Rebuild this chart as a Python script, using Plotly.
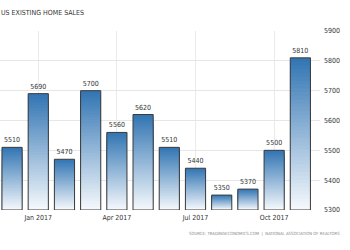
import plotly.graph_objects as go
import numpy as np

months = ["Dec 2016", "Jan 2017", "Feb 2017", "Mar 2017", "Apr 2017", "May 2017",
          "Jun 2017", "Jul 2017", "Aug 2017", "Sep 2017", "Oct 2017", "Nov 2017"]
sales = [5510, 5690, 5470, 5700, 5560, 5620, 5510, 5440, 5350, 5370, 5500, 5810]
tick_months = ["Jan 2017", "Apr 2017", "Jul 2017", "Oct 2017"]
y_ticks = [5300, 5400, 5500, 5600, 5700, 5800, 5900]
base_value = 5300

top_rgb = np.array([52, 118, 180])
bot_rgb = np.array([244, 248, 252])

FONT = "Liberation Sans Narrow, DejaVu Sans Condensed, Roboto Condensed, sans-serif"

fig = go.Figure()
steps = 40
vals = np.array(sales, dtype=float)
for k in range(steps):
    frac = 1 - k / steps
    t = k / (steps - 1)
    c = top_rgb * (1 - t) + bot_rgb * t
    color = "rgb(%d,%d,%d)" % tuple(c.astype(int))
    fig.add_trace(go.Bar(
        x=months, y=(vals - base_value) * frac, base=base_value,
        marker=dict(color=color, line=dict(width=0)),
        hoverinfo="skip", showlegend=False,
    ))

fig.add_trace(go.Bar(
    x=months, y=vals - base_value, base=base_value,
    marker=dict(color="rgba(0,0,0,0)", line=dict(color="#3a3a3a", width=1)),
    text=[str(v) for v in sales], textposition="outside",
    textfont=dict(size=7, color="#333333", family=FONT),
    cliponaxis=False, showlegend=False,
))

fig.update_layout(
    width=350, height=250,
    margin=dict(l=0, r=30, t=31, b=40),
    paper_bgcolor="white", plot_bgcolor="white",
    barmode="overlay", bargap=0.23,
    font=dict(family=FONT, color="#333333"),
    xaxis=dict(
        type="category", categoryorder="array", categoryarray=months,
        range=[-0.46, 11.75],
        tickvals=tick_months, ticktext=tick_months,
        showgrid=True, gridcolor="#ebebeb", gridwidth=1,
        ticks="", tickfont=dict(size=7, color="#333333"),
        ticklabelstandoff=2,
        showline=False, zeroline=False,
    ),
    yaxis=dict(
        side="right", range=[5300, 5900], tickvals=y_ticks,
        showgrid=True, gridcolor="#e6e6e6", gridwidth=1,
        ticks="", tickfont=dict(size=7, color="#333333"),
        ticklabelstandoff=3,
        zeroline=False, showline=False,
    ),
    annotations=[
        dict(text="US EXISTING HOME SALES", xref="paper", yref="paper",
             x=0.0, y=1.0, xanchor="left", yanchor="bottom", yshift=12, xshift=-1,
             showarrow=False, font=dict(size=7, color="#333333")),
        dict(text="SOURCE: TRADINGECONOMICS.COM  |  NATIONAL ASSOCIATION OF REALTORS",
             xref="paper", yref="paper", x=1.0, y=0, xanchor="right", yanchor="top",
             xshift=22, yshift=-19, showarrow=False,
             font=dict(size=4.3, color="#8a8a8a")),
    ],
)

fig.write_html("out.html")
